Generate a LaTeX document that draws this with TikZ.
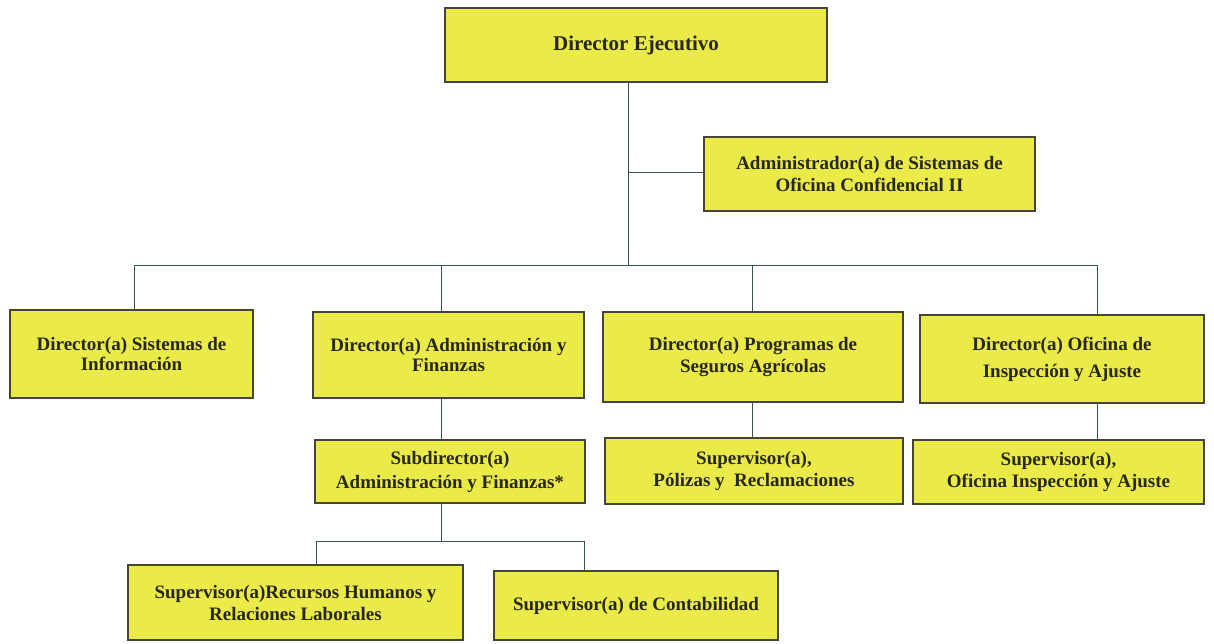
\documentclass[tikz,border=0pt]{standalone}
\usepackage{fontspec}
\setmainfont{Liberation Serif}
\definecolor{boxfill}{RGB}{234,234,72}
\definecolor{boxline}{RGB}{70,70,55}
\definecolor{conn}{RGB}{60,80,85}
\definecolor{txt}{RGB}{40,40,25}
\tikzset{
  orgbox/.style={draw=boxline, line width=1.2pt, fill=boxfill, rectangle, align=center,
    font=\bfseries\fontsize{19}{20}\selectfont, text=txt, inner sep=2pt},
  conline/.style={draw=conn, line width=0.9pt}
}
\begin{document}
\begin{tikzpicture}[x=1pt,y=-1pt]
\useasboundingbox (0,0) rectangle (1214,643);
\fill[white] (0,0) rectangle (1214,643);
\node[orgbox, minimum width=382pt, minimum height=74pt, font=\bfseries\fontsize{21}{24}\selectfont] (dir) at (636,45) {Director Ejecutivo};
\node[orgbox, minimum width=331pt, minimum height=74pt] (adm) at (869.5,174) {Administrador(a) de Sistemas de\\[2pt]Oficina Confidencial II};
\node[orgbox, minimum width=243pt, minimum height=88pt] (dsi) at (131.5,354) {Director(a) Sistemas de\\Información};
\node[orgbox, minimum width=271pt, minimum height=86pt] (daf) at (448.5,355) {Director(a) Administración y\\Finanzas};
\node[orgbox, minimum width=300pt, minimum height=90pt] (dps) at (753,357) {Director(a) Programas de\\[2pt]Seguros Agrícolas};
\node[orgbox, minimum width=284pt, minimum height=88pt] (doi) at (1062,359) {Director(a) Oficina de\\[7pt]Inspección y Ajuste};
\node[orgbox, minimum width=270pt, minimum height=63pt] (sub) at (450,471.5) {Subdirector(a)\\[4pt]Administración y Finanzas*};
\node[orgbox, minimum width=298pt, minimum height=66pt] (spr) at (754,471) {Supervisor(a),\\[2pt]Pólizas y\ \ Reclamaciones};
\node[orgbox, minimum width=291pt, minimum height=64pt] (soi) at (1058.5,472) {Supervisor(a),\\[2pt]Oficina Inspección y Ajuste};
\node[orgbox, minimum width=335pt, minimum height=75pt] (srh) at (295.5,602.5) {Supervisor(a)Recursos Humanos y\\[2pt]Relaciones Laborales};
\node[orgbox, minimum width=284pt, minimum height=69pt] (sco) at (636,605.5) {Supervisor(a) de Contabilidad};

\coordinate (t1) at (628,265);
\coordinate (ta) at (628,172);
\coordinate (h1) at (134,265);
\coordinate (h2) at (441,265);
\coordinate (h3) at (752,265);
\coordinate (h4) at (1097,265);
\coordinate (b0) at (441,541);
\coordinate (b1) at (316,541);
\coordinate (b2) at (584,541);

\draw[conline] (dir.south -| t1) -- (t1);
\draw[conline] (ta) -- (adm.west |- ta);
\draw[conline] (h1) -- (h4);
\draw[conline] (h1) -- (dsi.north -| h1);
\draw[conline] (h2) -- (daf.north -| h2);
\draw[conline] (h3) -- (dps.north -| h3);
\draw[conline] (h4) -- (doi.north -| h4);
\draw[conline] (daf.south -| h2) -- (sub.north -| h2);
\draw[conline] (dps.south -| h3) -- (spr.north -| h3);
\draw[conline] (doi.south -| h4) -- (soi.north -| h4);
\draw[conline] (sub.south -| b0) -- (b0);
\draw[conline] (b1) -- (b2);
\draw[conline] (b1) -- (srh.north -| b1);
\draw[conline] (b2) -- (sco.north -| b2);
\end{tikzpicture}
\end{document}
